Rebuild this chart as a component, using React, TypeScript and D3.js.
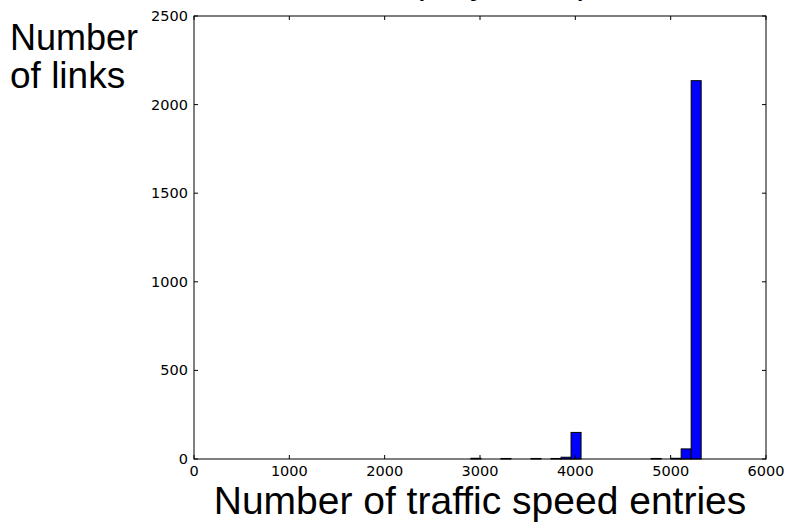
import React from "react";
import * as d3 from "d3";

// Histogram of traffic speed entries per link
const binStart = 280;
const binWidth = 105;
const counts: number[] = [
  0, 0, 0, 0, 0, 0, 0, 0, 0, 0,
  0, 0, 0, 0, 0, 0, 0, 0, 0, 0,
  0, 0, 0, 0, 0, 4, 0, 0, 3, 0,
  0, 3, 0, 3, 10, 150, 0, 0, 0, 0,
  0, 0, 0, 3, 0, 4, 57, 2135,
];
const xTicks = [0, 1000, 2000, 3000, 4000, 5000, 6000];
const yTicks = [0, 500, 1000, 1500, 2000, 2500];

const W = 789;
const H = 528;
const left = 194;
const right = 766;
const top = 16;
const bottom = 459;

export default function App() {
  const x = d3.scaleLinear().domain([0, 6000]).range([left, right]);
  const y = d3.scaleLinear().domain([0, 2500]).range([bottom, top]);
  const bins = counts.map((c, i) => ({
    x0: binStart + i * binWidth,
    x1: binStart + (i + 1) * binWidth,
    c,
  }));
  const tickLen = 4;
  const tickFont = "'DejaVu Sans', sans-serif";
  const labelFont = "'Liberation Sans', Arial, sans-serif";
  return (
    <svg
      width={W}
      height={H}
      style={{ position: "absolute", left: 0, top: 0, background: "#fff" }}
    >
      <rect x={0} y={0} width={W} height={H} fill="#fff" />
      <text x={412} y={-7} fontFamily={labelFont} fontSize={36} fill="#000">
        (July 2015)
      </text>
      {bins.map((b, i) => (
        <rect
          key={i}
          x={x(b.x0)}
          y={y(b.c)}
          width={x(b.x1) - x(b.x0)}
          height={bottom - y(b.c)}
          fill="#0000ff"
          stroke="#000"
          strokeWidth={1}
        />
      ))}
      <rect
        x={left}
        y={top}
        width={right - left}
        height={bottom - top}
        fill="none"
        stroke="#000"
        strokeWidth={1}
      />
      {xTicks.map((t) => (
        <g key={"x" + t}>
          <line x1={x(t)} x2={x(t)} y1={bottom} y2={bottom - tickLen} stroke="#000" />
          <line x1={x(t)} x2={x(t)} y1={top} y2={top + tickLen} stroke="#000" />
          <text
            x={x(t)}
            y={bottom + 17}
            textAnchor="middle"
            fontFamily={tickFont}
            fontSize={14.5}
            fill="#000"
          >
            {t}
          </text>
        </g>
      ))}
      {yTicks.map((t) => (
        <g key={"y" + t}>
          <line x1={left} x2={left + tickLen} y1={y(t)} y2={y(t)} stroke="#000" />
          <line x1={right} x2={right - tickLen} y1={y(t)} y2={y(t)} stroke="#000" />
          <text
            x={left - 6}
            y={y(t) + 5}
            textAnchor="end"
            fontFamily={tickFont}
            fontSize={14.5}
            fill="#000"
          >
            {t}
          </text>
        </g>
      ))}
      <text x={10} y={50} fontFamily={labelFont} fontSize={36} fill="#000">
        Number
      </text>
      <text x={10} y={88} fontFamily={labelFont} fontSize={37} fill="#000">
        of links
      </text>
      <text
        x={(left + right) / 2}
        y={514}
        textAnchor="middle"
        fontFamily={labelFont}
        fontSize={39}
        fill="#000"
      >
        Number of traffic speed entries
      </text>
    </svg>
  );
}
